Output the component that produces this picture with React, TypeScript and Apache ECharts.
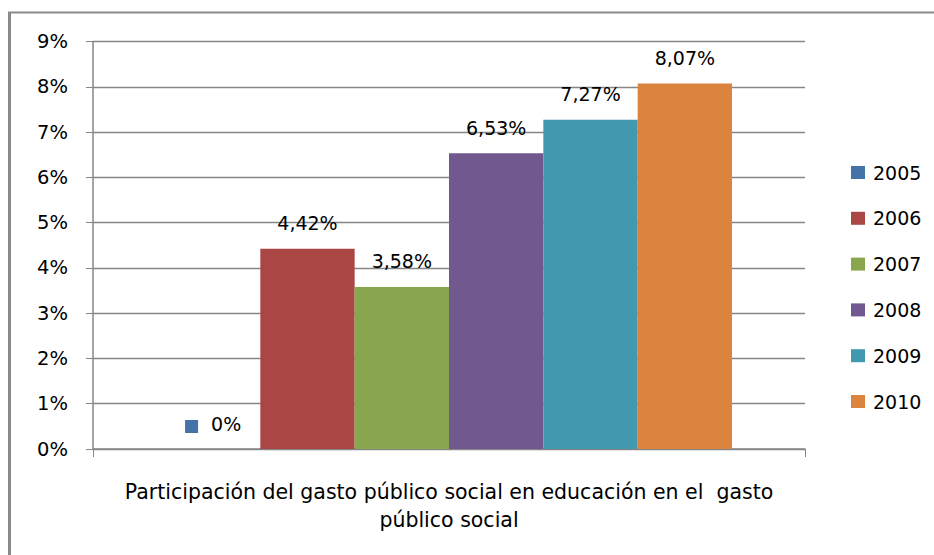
import React, { useEffect, useRef } from "react";
import * as echarts from "echarts";

const categories = ["Participación del gasto público social en educación en el  gasto\npúblico social"];
const years = ["2005", "2006", "2007", "2008", "2009", "2010"];
const values = [0, 4.42, 3.58, 6.53, 7.27, 8.07];
const colors = ["#4572A7", "#AA4643", "#89A54E", "#71588F", "#4198AF", "#DB843D"];
const yTicks = [0, 1, 2, 3, 4, 5, 6, 7, 8, 9];

const FONT = "DejaVu Sans";

function fmt(v: number): string {
  if (v === 0) return "0%";
  return v.toFixed(2).replace(".", ",") + "%";
}

export default function App() {
  const ref = useRef<HTMLDivElement>(null);
  useEffect(() => {
    if (!ref.current) return;
    const chart = echarts.init(ref.current, undefined, { renderer: "svg" });
    const series = years.map((y, i) => ({
      name: y,
      type: "bar",
      data: [values[i]],
      barGap: "0%",
      barCategoryGap: "20.5%",
      itemStyle: { color: colors[i] },
      label: {
        show: true,
        position: "top",
        distance: 16,
        color: "#000",
        fontFamily: FONT,
        fontSize: 19,
        formatter: (p: any) => (i === 0 ? "{sq|}{t|" + fmt(p.value) + "}" : fmt(p.value)),
        rich: {
          sq: { width: 13, height: 13, backgroundColor: colors[0], verticalAlign: "bottom" },
          t: { fontFamily: FONT, fontSize: 19, color: "#000", padding: [0, 0, 0, 13] },
        },
      },
    }));
    chart.setOption({
      animation: false,
      backgroundColor: "#fff",
      color: colors,
      grid: { left: 93, right: 129, top: 41.5, bottom: 106, containLabel: false },
      graphic: [
        { type: "line", shape: { x1: 9.5, y1: 12, x2: 9.5, y2: 555 }, style: { stroke: "#898989", lineWidth: 3 } },
        { type: "line", shape: { x1: 8, y1: 12.5, x2: 934, y2: 12.5 }, style: { stroke: "#898989", lineWidth: 2 } },
      ],
      legend: {
        orient: "vertical",
        left: 846,
        top: 158,
        itemWidth: 14,
        itemHeight: 13,
        itemGap: 26.8,
        icon: "rect",
        textStyle: { fontFamily: FONT, fontSize: 19, color: "#000", padding: [0, 0, 0, 3] },
        data: years,
      },
      xAxis: {
        type: "category",
        data: categories,
        axisLine: { show: true, lineStyle: { color: "#868686", width: 1.5 } },
        axisTick: { show: true, length: 8, alignWithLabel: false, lineStyle: { color: "#868686" } },
        axisLabel: { fontFamily: FONT, fontSize: 20.5, color: "#000", lineHeight: 28, margin: 29 },
      },
      yAxis: {
        type: "value",
        min: yTicks[0],
        max: yTicks[yTicks.length - 1],
        interval: 1,
        axisLine: { show: true, lineStyle: { color: "#868686", width: 1.5 } },
        axisTick: { show: true, length: 7, lineStyle: { color: "#868686" } },
        splitLine: { show: true, lineStyle: { color: "#868686", width: 1.3 } },
        axisLabel: { fontFamily: FONT, fontSize: 19.5, color: "#000", margin: 25, formatter: "{value}%" },
      },
      series,
    });
    return () => chart.dispose();
  }, []);
  return <div ref={ref} style={{ width: 934, height: 555, position: "absolute", left: 0, top: 0 }} />;
}
